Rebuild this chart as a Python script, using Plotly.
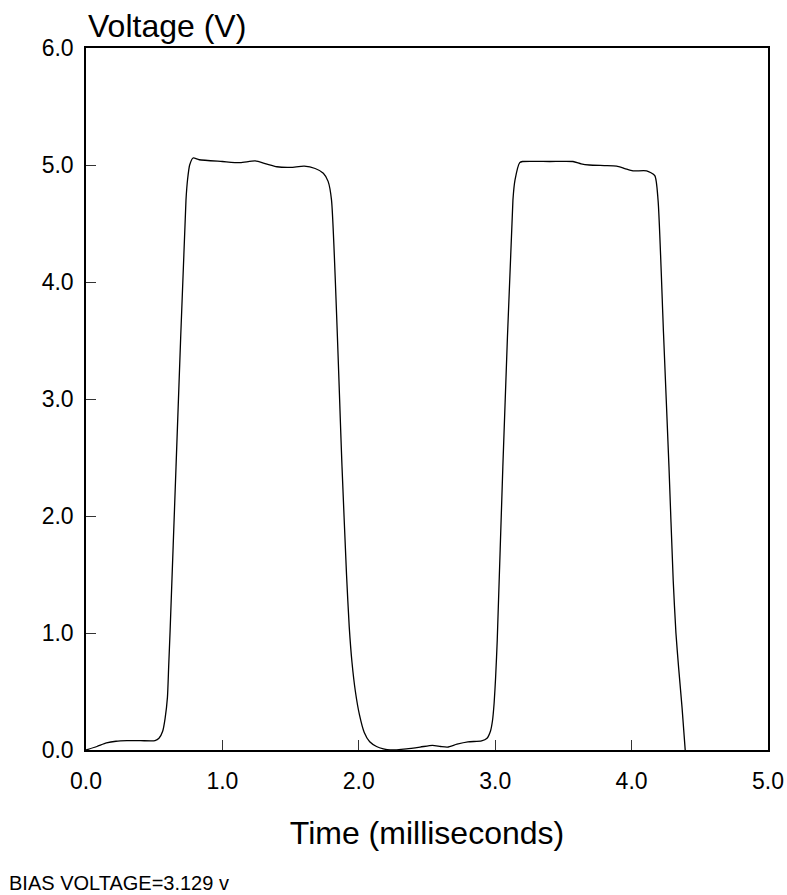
import plotly.graph_objects as go

# Time (ms) and voltage (V)
time_ms = [0.00, 0.08, 0.15, 0.22, 0.30, 0.40, 0.506, 0.535, 0.562, 0.58, 0.597, 0.606, 0.616,
           0.66, 0.733, 0.745, 0.76, 0.785, 0.83, 1.00, 1.13, 1.24, 1.32, 1.40, 1.50, 1.60,
           1.68, 1.74, 1.775, 1.80, 1.877, 1.91, 1.93, 1.95, 1.975, 2.005, 2.04, 2.08, 2.13,
           2.18, 2.23, 2.35, 2.45, 2.54, 2.60, 2.65, 2.72, 2.80, 2.90, 2.94, 2.965, 2.98,
           2.992, 3.003, 3.015, 3.056, 3.13, 3.145, 3.18, 3.20, 3.40, 3.57, 3.63, 3.69, 3.80,
           3.89, 3.95, 4.01, 4.11, 4.17, 4.194, 4.234, 4.274, 4.305, 4.325, 4.345, 4.37, 4.393]
voltage = [0.00, 0.03, 0.06, 0.075, 0.08, 0.08, 0.08, 0.10, 0.16, 0.27, 0.45, 0.71, 1.0,
           2.42, 4.7, 4.88, 5.0, 5.06, 5.045, 5.03, 5.02, 5.035, 5.01, 4.985, 4.98, 4.99,
           4.97, 4.93, 4.86, 4.7, 2.42, 1.5, 1.05, 0.75, 0.5, 0.3, 0.15, 0.07, 0.03,
           0.01, 0.00, 0.01, 0.025, 0.04, 0.03, 0.025, 0.05, 0.07, 0.077, 0.10, 0.16, 0.25,
           0.40, 0.62, 0.94, 2.42, 4.7, 4.87, 5.02, 5.03, 5.03, 5.03, 5.01, 5.0, 4.995,
           4.99, 4.97, 4.95, 4.95, 4.91, 4.7, 3.56, 2.42, 1.45, 1.0, 0.7, 0.36, 0.0]

x_ticks = [0, 1, 2, 3, 4, 5]
x_labels = ["0.0", "1.0", "2.0", "3.0", "4.0", "5.0"]
y_ticks = [0, 1, 2, 3, 4, 5, 6]
y_labels = ["0.0", "1.0", "2.0", "3.0", "4.0", "5.0", "6.0"]

FONT = "Liberation Sans, Arial, sans-serif"

fig = go.Figure()
fig.add_trace(go.Scatter(x=time_ms, y=voltage, mode="lines",
                         line=dict(color="black", width=1.3, shape="spline", smoothing=0.6),
                         showlegend=False, hoverinfo="skip"))

fig.update_layout(
    width=787, height=895,
    margin=dict(l=86, r=19, t=48, b=145),
    paper_bgcolor="white", plot_bgcolor="white",
    font=dict(family=FONT, color="black"),
)
fig.update_xaxes(range=[0, 5], tickvals=x_ticks, ticktext=x_labels, automargin=False,
                 ticks="inside", ticklen=10, tickwidth=1, tickcolor="#333",
                 showline=True, linecolor="black", linewidth=1.5, mirror=True,
                 showgrid=False, zeroline=False, tickfont=dict(size=23, family=FONT),
                 ticklabelstandoff=10,
                 title=dict(text="Time (milliseconds)", font=dict(size=32, family=FONT), standoff=28))
fig.update_yaxes(range=[0, 6], tickvals=y_ticks, ticktext=y_labels, automargin=False,
                 ticks="inside", ticklen=10, tickwidth=1, tickcolor="#333",
                 showline=True, linecolor="black", linewidth=1.5, mirror=True,
                 showgrid=False, zeroline=False, tickfont=dict(size=23, family=FONT),
                 ticklabelstandoff=6)

fig.add_annotation(text="Voltage (V)", xref="paper", yref="paper", x=0, y=1,
                   xanchor="left", yanchor="bottom", yshift=2, showarrow=False,
                   font=dict(size=32, family=FONT, color="black"))
fig.add_annotation(text="BIAS VOLTAGE=3.129 v", xref="paper", yref="paper",
                   x=-86/682, y=-133/702, xanchor="left", yanchor="middle", xshift=7,
                   showarrow=False, font=dict(size=20, family=FONT, color="black"))

fig.write_html("out.html", config={"displayModeBar": False},
               post_script="document.body.style.margin='0';document.body.style.overflow='hidden';")
